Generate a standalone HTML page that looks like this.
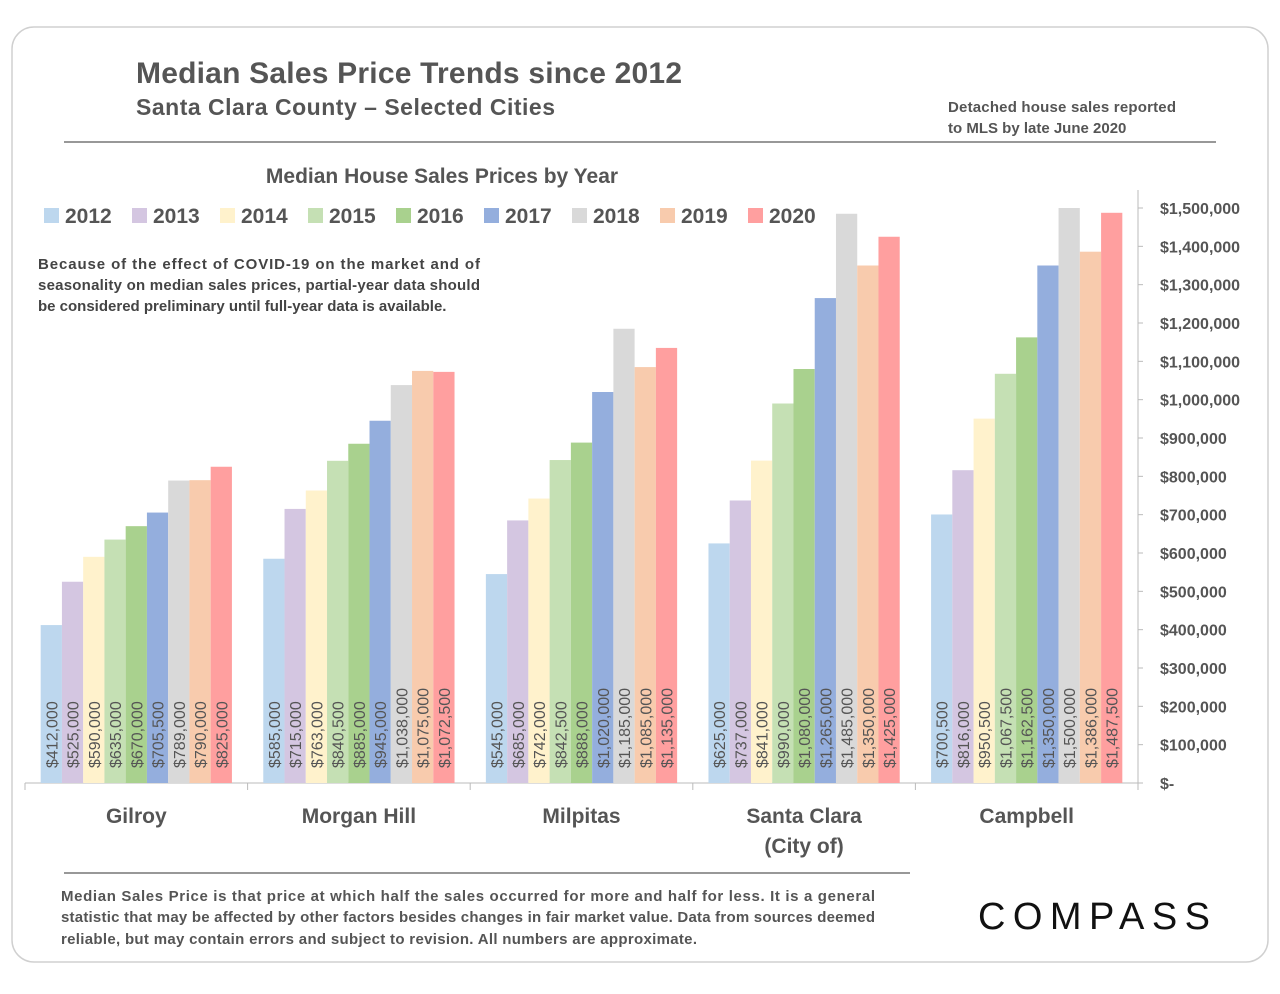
<!DOCTYPE html>
<html><head><meta charset="utf-8"><style>
body{margin:0;background:#fff;font-family:"Liberation Sans",sans-serif;}
svg text{font-family:"Liberation Sans",sans-serif;}
</style></head><body>
<svg width="1280" height="989" viewBox="0 0 1280 989">
<rect x="12" y="27" width="1256" height="935" rx="22" fill="#fff" stroke="#d0d0d0" stroke-width="1.5"/>
<text x="136" y="83" font-size="30" font-weight="bold" fill="#555" textLength="546">Median Sales Price Trends since 2012</text>
<text x="136" y="115" font-size="23" font-weight="bold" fill="#555" textLength="419">Santa Clara County – Selected Cities</text>
<text x="948" y="112" font-size="15" font-weight="bold" fill="#555" textLength="228">Detached house sales reported</text>
<text x="948" y="133" font-size="15" font-weight="bold" fill="#555">to MLS by late June 2020</text>
<line x1="64" y1="142" x2="1216" y2="142" stroke="#777" stroke-width="1.5"/>
<text x="442" y="183" font-size="21" font-weight="bold" fill="#555" text-anchor="middle">Median House Sales Prices by Year</text>
<g id="legend"></g>
<text font-size="15" font-weight="bold" fill="#444">
<tspan x="38" y="269" textLength="442">Because of the effect of COVID-19 on the market and of</tspan>
<tspan x="38" y="290" textLength="442">seasonality on median sales prices, partial-year data should</tspan>
<tspan x="38" y="311">be considered preliminary until full-year data is available.</tspan></text>
<g id="plot"></g>
<line x1="64" y1="873" x2="910" y2="873" stroke="#777" stroke-width="1.5"/>
<text font-size="15" font-weight="bold" fill="#555">
<tspan x="61" y="901" textLength="814">Median Sales Price is that price at which half the sales occurred for more and half for less. It is a general</tspan>
<tspan x="61" y="922" textLength="814">statistic that may be affected by other factors besides changes in fair market value. Data from sources deemed</tspan>
<tspan x="61" y="944" textLength="636">reliable, but may contain errors and subject to revision.  All numbers are approximate.</tspan></text>
<text x="978" y="929" font-size="38" fill="#111" textLength="232">COMPASS</text>
</svg>
<script>
const years=["2012","2013","2014","2015","2016","2017","2018","2019","2020"];
const cities=[["Gilroy"],["Morgan Hill"],["Milpitas"],["Santa Clara","(City of)"],["Campbell"]];
const gilroy=[412000,525000,590000,635000,670000,705500,789000,790000,825000];
const morganHill=[585000,715000,763000,840500,885000,945000,1038000,1075000,1072500];
const milpitas=[545000,685000,742000,842500,888000,1020000,1185000,1085000,1135000];
const santaClara=[625000,737000,841000,990000,1080000,1265000,1485000,1350000,1425000];
const campbell=[700500,816000,950500,1067500,1162500,1350000,1500000,1386000,1487500];
const yTicks=[0,100000,200000,300000,400000,500000,600000,700000,800000,900000,1000000,1100000,1200000,1300000,1400000,1500000];
const series=[gilroy,morganHill,milpitas,santaClara,campbell];
const colors=["#bdd7ee","#d4c6e1","#fff2cc","#c5e0b4","#a9d18e","#94aedd","#d9d9d9","#f8cbad","#ff9f9f"];
const NS="http://www.w3.org/2000/svg";
const X0=25,X1=1138,Y0=783,Ytop=208,VMAX=1500000;
const gw=(X1-X0)/cities.length,bw=21.25,pad=(gw-9*bw)/2;
const y=v=>Y0-(v/VMAX)*(Y0-Ytop);
const plot=document.getElementById('plot');
function mk(t,a,p){const e=document.createElementNS(NS,t);for(const k in a)e.setAttribute(k,a[k]);(p||plot).appendChild(e);return e;}
const fmt=v=>"$"+v.toLocaleString("en-US");
const ax=mk('line',{x1:X1,y1:190,x2:X1,y2:Y0,stroke:'#bbb'});


const bx=mk('line',{x1:X0,y1:Y0,x2:X1,y2:Y0,stroke:'#bbb'});


yTicks.forEach(v=>{
  const t=mk('text',{x:1160,y:y(v)+6,'font-size':16,'font-weight':'bold',fill:'#555'});
  t.textContent=v===0?"$-":fmt(v);
  
  
  mk('line',{x1:X1,y1:y(v),x2:X1+5,y2:y(v),stroke:'#bbb'});
});
for(let i=0;i<=cities.length;i++){mk('line',{x1:X0+i*gw,y1:Y0,x2:X0+i*gw,y2:Y0+7,stroke:'#bbb'});}
series.forEach((vals,ci)=>{
  const gx=X0+ci*gw;
  vals.forEach((v,yi)=>{
    const x=gx+pad+yi*bw;
    const r=mk('rect',{x:x,y:y(v),width:bw,height:Y0-y(v),fill:colors[yi]});
    
    
    const t=mk('text',{transform:`translate(${x+bw/2+6},768) rotate(-90)`,'font-size':16,fill:'#555'});
    t.textContent=fmt(v);
    
    
  });
  cities[ci].forEach((ln,li)=>{
    const t=mk('text',{x:gx+gw/2,y:823+li*30,'font-size':21,'font-weight':'bold',fill:'#555','text-anchor':'middle'});
    t.textContent=ln;
    
    
  });
});
const lg=document.getElementById('legend');
const lx=[44,132,220,308,396,484,572,660,748];
years.forEach((yr,i)=>{
  const s=mk('rect',{x:lx[i],y:208,width:15,height:15,fill:colors[i]},lg);
  
  
  const t=mk('text',{x:lx[i]+21,y:223,'font-size':21,'font-weight':'bold',fill:'#555'},lg);
  t.textContent=yr;
  
  
});
</script>
</body></html>
